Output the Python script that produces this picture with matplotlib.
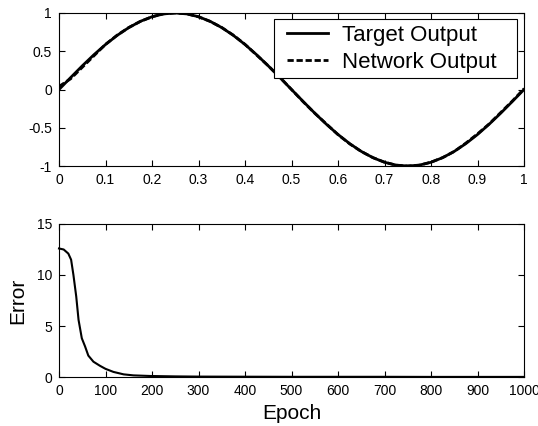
import numpy as np
import matplotlib
matplotlib.use("Agg")
import matplotlib.pyplot as plt
from matplotlib.patches import Rectangle

plt.rcParams['font.family'] = ['Liberation Sans', 'DejaVu Sans']
plt.rcParams['lines.scale_dashes'] = False

# top plot: target vs network output
x = [0.0, 0.025, 0.05, 0.075, 0.1, 0.125, 0.15, 0.175, 0.2, 0.225,
     0.25, 0.275, 0.3, 0.325, 0.35, 0.375, 0.4, 0.425, 0.45, 0.475,
     0.5, 0.525, 0.55, 0.575, 0.6, 0.625, 0.65, 0.675, 0.7, 0.725,
     0.75, 0.775, 0.8, 0.825, 0.85, 0.875, 0.9, 0.925, 0.95, 0.975, 1.0]
target = [0.0, 0.156, 0.309, 0.454, 0.588, 0.707, 0.809, 0.891, 0.951, 0.988,
          1.0, 0.988, 0.951, 0.891, 0.809, 0.707, 0.588, 0.454, 0.309, 0.156,
          0.0, -0.156, -0.309, -0.454, -0.588, -0.707, -0.809, -0.891, -0.951, -0.988,
          -1.0, -0.988, -0.951, -0.891, -0.809, -0.707, -0.588, -0.454, -0.309, -0.156, 0.0]
network = [0.04, 0.14, 0.29, 0.44, 0.59, 0.71, 0.81, 0.89, 0.95, 0.99,
           1.0, 0.99, 0.95, 0.89, 0.81, 0.71, 0.59, 0.45, 0.31, 0.16,
           0.0, -0.16, -0.31, -0.45, -0.59, -0.71, -0.81, -0.89, -0.95, -0.99,
           -1.0, -0.99, -0.95, -0.89, -0.81, -0.70, -0.58, -0.45, -0.30, -0.15, 0.01]

# bottom plot: training error
epoch = [0, 10, 20, 26, 31, 37, 42, 49, 56, 63, 74, 88, 100, 117, 139, 160, 196,
         250, 300, 400, 500, 600, 700, 800, 900, 1000]
error = [12.6, 12.5, 12.1, 11.5, 10.0, 7.9, 5.6, 3.8, 3.0, 2.1, 1.5, 1.1, 0.8, 0.5,
         0.26, 0.16, 0.1, 0.06, 0.04, 0.03, 0.02, 0.02, 0.02, 0.01, 0.01, 0.01]

fig = plt.figure(figsize=(5.38, 4.26), dpi=100)
ax1 = fig.add_axes([0.1097, 0.6103, 0.8643, 0.3592])
ax2 = fig.add_axes([0.1097, 0.115, 0.8643, 0.3592])

ax1.plot(x, target, color='black', lw=2.0, label='Target Output')
ax1.plot(x, network, color='black', lw=2.0, dashes=(4.5, 2), label='Network Output')
ax1.set_xlim(0, 1)
ax1.set_ylim(-1, 1)
ax1.set_xticks(np.arange(0, 1.01, 0.1))
ax1.set_xticklabels(['0', '0.1', '0.2', '0.3', '0.4', '0.5', '0.6', '0.7', '0.8', '0.9', '1'])
ax1.set_yticks([-1, -0.5, 0, 0.5, 1])
ax1.set_yticklabels(['-1', '-0.5', '0', '0.5', '1'])

# legend box drawn separately (wider horizontal padding than matplotlib allows)
ax1.add_patch(Rectangle((0.462, 0.575), 0.523, 0.386, transform=ax1.transAxes,
                        facecolor='white', edgecolor='black', lw=0.8, zorder=4))
leg = ax1.legend(loc='upper left', bbox_to_anchor=(0.4785, 0.961), borderaxespad=0,
                 fontsize=16, frameon=False, handlelength=1.85, handletextpad=0.6,
                 borderpad=0.25, labelspacing=0.28)
leg.set_zorder(5)

ax2.plot(epoch, error, color='black', lw=1.5, clip_on=False)
ax2.set_xlim(0, 1000)
ax2.set_ylim(0, 15)
ax2.set_xticks(range(0, 1001, 100))
ax2.set_yticks([0, 5, 10, 15])
ax2.set_xlabel('Epoch', fontsize=15, labelpad=4)
ax2.set_ylabel('Error', fontsize=15, labelpad=7)

for ax in (ax1, ax2):
    ax.tick_params(direction='in', top=True, right=True, length=4, width=0.8,
                   labelsize=10, pad=5, colors='black')
    for s in ax.spines.values():
        s.set_linewidth(0.8)

fig.savefig('out.png', dpi=100)
